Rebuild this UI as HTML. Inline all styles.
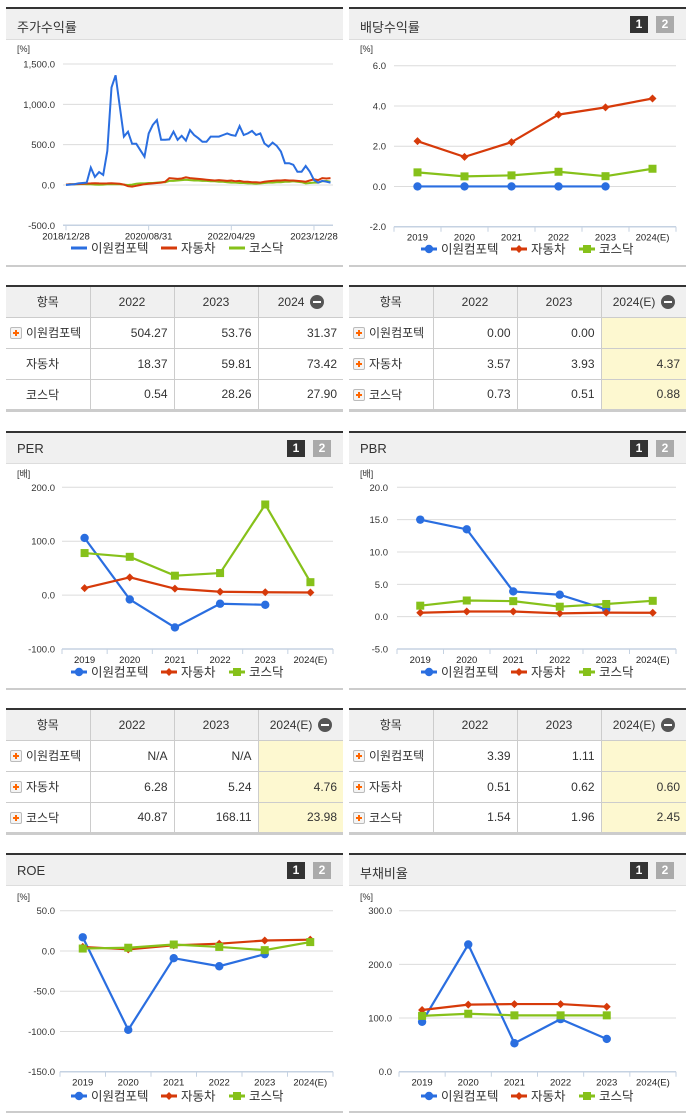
<!DOCTYPE html>
<html><head><meta charset="utf-8">
<style>
*{margin:0;padding:0;box-sizing:border-box}
body{width:691px;height:1115px;background:#fff;position:relative;overflow:hidden;font-family:"Liberation Sans","Noto Sans CJK KR",sans-serif;color:#333}
.panel{position:absolute;border-top:2px solid #333;border-bottom:2px solid #ccc}
.hdr{height:31px;background:#f0f0f0;border-bottom:1px solid #ddd;position:relative}
.hdr .t{position:absolute;left:11px;top:8px;font-size:13px;color:#333}
.btn{position:absolute;top:7px;width:18px;height:17px;color:#fff;font-weight:bold;font-size:12px;text-align:center;line-height:17px}
.b1{background:#333}.b2{background:#aaa}
table{position:absolute;border-collapse:collapse;font-size:12px;table-layout:fixed}
td,th{border:1px solid #ccc;height:31px;font-weight:normal}
th{background:#f0f0f0;text-align:center}
td{text-align:right;padding-right:6px}
td.lab{text-align:left;padding-left:4px;padding-right:0;white-space:nowrap}
td.est{background:#fdf8d0}
.plus{display:inline-block;width:12px;height:12px;border:1px solid #bbb;background:#f4f4f4;vertical-align:-2px;margin-right:4px;position:relative;border-radius:2px}
.plus:before{content:"";position:absolute;left:2px;top:4px;width:6px;height:2px;background:#f60}
.plus:after{content:"";position:absolute;left:4px;top:2px;width:2px;height:6px;background:#f60}
.sp{display:inline-block;width:16px}
.minus{display:inline-block;width:14px;height:14px;border-radius:7px;background:#555;vertical-align:-3px;position:relative;margin-left:2px}
.minus:after{content:"";position:absolute;left:3px;top:6px;width:8px;height:2px;background:#fff}
table tr:first-child th{border-top:none}
#ov{position:absolute;left:0;top:0}
</style></head><body>

<div class="panel" style="left:6px;top:7px;width:337px;height:260px"><div class="hdr"><span class="t">주가수익률</span></div></div>
<div class="panel" style="left:349px;top:7px;width:337px;height:260px"><div class="hdr"><span class="t">배당수익률</span><span class="btn b1" style="left:281px">1</span><span class="btn b2" style="left:307px">2</span></div></div>

<div class="panel" style="left:6px;top:431px;width:337px;height:259px"><div class="hdr"><span class="t">PER</span><span class="btn b1" style="left:281px">1</span><span class="btn b2" style="left:307px">2</span></div></div>
<div class="panel" style="left:349px;top:431px;width:337px;height:259px"><div class="hdr"><span class="t">PBR</span><span class="btn b1" style="left:281px">1</span><span class="btn b2" style="left:307px">2</span></div></div>

<div class="panel" style="left:6px;top:853px;width:337px;height:260px"><div class="hdr"><span class="t">ROE</span><span class="btn b1" style="left:281px">1</span><span class="btn b2" style="left:307px">2</span></div></div>
<div class="panel" style="left:349px;top:853px;width:337px;height:260px"><div class="hdr"><span class="t">부채비율</span><span class="btn b1" style="left:281px">1</span><span class="btn b2" style="left:307px">2</span></div></div>

<svg id="ov" width="691" height="1115" xmlns="http://www.w3.org/2000/svg" font-family="Liberation Sans, Noto Sans CJK KR, sans-serif"></svg>

<script>
// ===== data =====
const cats = ['2019','2020','2021','2022','2023','2024(E)'];
const seriesNames = ['이원컴포텍','자동차','코스닥'];
const stockDates = ['2018/12/28','2020/08/31','2022/04/29','2023/12/28'];
const stockDateIdx = [0,20,40,60];
const stockBlue = [0,5,10,20,25,30,215,100,160,125,420,1210,1360,980,600,660,510,510,430,350,640,745,805,560,560,565,660,560,610,550,680,620,580,535,535,600,600,600,620,640,620,610,730,620,640,670,620,640,515,475,525,485,415,270,270,250,165,165,235,165,60,30,50,40,30];
const stockRed = [5,8,10,12,15,18,20,22,20,18,20,22,18,15,5,-15,-20,-10,0,10,15,20,25,30,40,85,80,75,80,95,85,80,75,70,65,60,55,60,55,50,55,45,50,40,40,35,35,30,40,45,50,55,55,60,55,55,50,45,40,55,70,60,85,80,85];
const stockGreen = [5,8,10,10,12,10,8,5,3,5,8,10,10,8,5,0,5,15,20,20,25,25,30,35,35,50,50,55,60,65,60,55,55,50,50,45,45,40,40,35,30,30,25,25,20,20,15,20,25,30,30,35,35,40,40,45,40,35,20,25,30,30,45,50,40];
const stockTicks = [1500,1000,500,0,-500];
const divBlue = [0,0,0,0,0,null];
const divRed = [2.25,1.47,2.2,3.57,3.93,4.37];
const divGreen = [0.7,0.5,0.55,0.73,0.51,0.88];
const perBlue = [106,-8,-60,-16,-18,null];
const perRed = [13,33,12,6.28,5.24,4.76];
const perGreen = [78,71,36,40.87,168.11,23.98];
const pbrBlue = [15,13.5,3.9,3.39,1.11,null];
const pbrRed = [0.6,0.8,0.8,0.51,0.62,0.60];
const pbrGreen = [1.7,2.5,2.4,1.54,1.96,2.45];
const roeBlue = [17,-98,-9,-19,-4,null];
const roeRed = [5,2,7,9,13,14];
const roeGreen = [3,4,8,5,1,11];
const debtBlue = [93,237,53,98,61,null];
const debtRed = [115,125,126,126,121,null];
const debtGreen = [104,108,105,105,105,null];
const tblYears1 = ['2022','2023','2024'];
const tblYears2 = ['2022','2023','2024(E)'];
const t1Vals = [['504.27','53.76','31.37'],['18.37','59.81','73.42'],['0.54','28.26','27.90']];
const t2Vals = [['0.00','0.00',''],['3.57','3.93','4.37'],['0.73','0.51','0.88']];
const t3Vals = [['N/A','N/A',''],['6.28','5.24','4.76'],['40.87','168.11','23.98']];
const t4Vals = [['3.39','1.11',''],['0.51','0.62','0.60'],['1.54','1.96','2.45']];

const colors = ['#2a6ee0','#d63a0a','#86c11a'];
const NS = 'http://www.w3.org/2000/svg';
const svg = document.getElementById('ov');
function mk(tag, attrs, parent){const e=document.createElementNS(NS,tag);for(const k in attrs)e.setAttribute(k,attrs[k]);(parent||svg).appendChild(e);return e;}
function txt(x,y,s,size,anchor,parent,fill){const t=mk('text',{x:x,y:y,'font-size':size,'text-anchor':anchor||'start',fill:fill||'#333'},parent);t.textContent=s;return t;}
function fmt(v){return v.toLocaleString('en-US',{minimumFractionDigits:1,maximumFractionDigits:1});}

function marker(g,i,x,y){
  let m;
  if(i===0){m=mk('circle',{cx:x,cy:y,r:4.2,fill:colors[0]},g);}
  else if(i===1){m=mk('polygon',{points:`${x},${y-4} ${x+4},${y} ${x},${y+4} ${x-4},${y}`,fill:colors[1]},g);}
  else {m=mk('rect',{x:x-4,y:y-4,width:8,height:8,fill:colors[2]},g);}
  return m;
}

function legend(g,cx,y,lineOnly){
  const widths=[16+4+62,16+4+40,16+4+40];
  const total=widths.reduce((a,b)=>a+b,0)+2*8;
  let x=cx-total/2;
  for(let i=0;i<3;i++){
    const lg=mk('g',{},g);
    
    
    mk('line',{x1:x,y1:y,x2:x+16,y2:y,stroke:colors[i],'stroke-width':3},lg);
    if(!lineOnly) marker(lg,i,x+8,y);
    txt(x+20,y+4.5,seriesNames[i],12.5,'start',lg);
    x+=widths[i]+8;
  }
}

function catChart(name,series,ticks,c){
  const g=mk('g',{});
  
  
  const vmax=ticks[0],vmin=ticks[ticks.length-1];
  const ys=v=>c.yTop+(vmax-v)/(vmax-vmin)*(c.yBot-c.yTop);
  const bw=(c.x1-c.x0)/cats.length;
  const xs=i=>c.x0+bw*(i+0.5);
  const u=txt(c.unitX,c.unitY,c.unit,9,'start',g); 
  ticks.forEach(t=>{
    if(t!==vmin) mk('line',{x1:c.x0,x2:c.x1,y1:ys(t),y2:ys(t),stroke:'#dcdcdc','stroke-width':1},g);
    const l=txt(c.labX,ys(t)+3.5,fmt(t),9.5,'end',g);
    
  });
  mk('line',{x1:c.x0,x2:c.x1,y1:c.yBot,y2:c.yBot,stroke:'#c5d2e2','stroke-width':1.5},g);
  for(let i=0;i<=cats.length;i++) mk('line',{x1:c.x0+bw*i,x2:c.x0+bw*i,y1:c.yBot,y2:c.yBot+5,stroke:'#c5d2e2'},g);
  cats.forEach((s,i)=>{const l=txt(xs(i),c.yBot+14,s,9.5,'middle',g,'#222');});
  series.forEach((arr,si)=>{
    const sg=mk('g',{},g);
    
    
    let d='';
    arr.forEach((v,i)=>{if(v===null)return;d+=(d?'L':'M')+xs(i)+','+ys(v);});
    mk('path',{d:d,fill:'none',stroke:colors[si],'stroke-width':2.2},sg);
    arr.forEach((v,i)=>{
      if(v===null)return;
      const m=marker(sg,si,xs(i),ys(v));
      
      
    });
  });
  legend(g,c.legCx,c.legY,false);
}

// stock return chart
(function(){
  const g=mk('g',{});
  
  
  const yTop=64,yBot=225.3,x0=63,x1=333,mx0=66,mstep=4.133;
  const vmax=stockTicks[0],vmin=stockTicks[stockTicks.length-1];
  const ys=v=>yTop+(vmax-v)/(vmax-vmin)*(yBot-yTop);
  const xs=i=>mx0+i*mstep;
  txt(17,52,'[%]',9,'start',g);
  stockTicks.forEach(t=>{
    if(t!==vmin) mk('line',{x1:x0,x2:x1,y1:ys(t),y2:ys(t),stroke:'#dcdcdc'},g);
    const l=txt(55,ys(t)+3.5,fmt(t),9.5,'end',g);
    
  });
  mk('line',{x1:x0,x2:x1,y1:yBot,y2:yBot,stroke:'#c5d2e2','stroke-width':1.5},g);
  stockDates.forEach((s,k)=>{
    const x=xs(stockDateIdx[k]);
    mk('line',{x1:x,x2:x,y1:yBot,y2:yBot+5,stroke:'#c5d2e2'},g);
    const l=txt(x,yBot+14,s,9.5,'middle',g,'#222');
    
  });
  [stockGreen,stockRed,stockBlue].forEach((arr,k)=>{
    const si=2-k;
    let d='';
    arr.forEach((v,i)=>{d+=(i?'L':'M')+xs(i).toFixed(1)+','+ys(v).toFixed(1);});
    const p=mk('path',{d:d,fill:'none',stroke:colors[si],'stroke-width':2},g);
    
    
  });
  legend(g,180,248,true);
})();

catChart('dividend',[divBlue,divRed,divGreen],[6,4,2,0,-2],{yTop:65.7,yBot:226.7,x0:394,x1:676,labX:386,unitX:360,unitY:52,unit:'[%]',legCx:530,legY:249});
catChart('per',[perBlue,perRed,perGreen],[200,100,0,-100],{yTop:487.3,yBot:649,x0:62,x1:333,labX:55,unitX:17,unitY:477,unit:'[배]',legCx:180,legY:672});
catChart('pbr',[pbrBlue,pbrRed,pbrGreen],[20,15,10,5,0,-5],{yTop:487.3,yBot:649,x0:397,x1:676,labX:388,unitX:360,unitY:477,unit:'[배]',legCx:530,legY:672});
catChart('roe',[roeBlue,roeRed,roeGreen],[50,0,-50,-100,-150],{yTop:910.7,yBot:1071.7,x0:60,x1:333,labX:55,unitX:17,unitY:900,unit:'[%]',legCx:180,legY:1096});
catChart('debt-ratio',[debtBlue,debtRed,debtGreen],[300,200,100,0],{yTop:910.7,yBot:1071.7,x0:399,x1:676,labX:392,unitX:360,unitY:900,unit:'[%]',legCx:530,legY:1096});

// tables
function table(name,left,top,years,vals,plusRows,est){
  const t=document.createElement('table');
  
  
  t.style.left=left+'px';t.style.top=top+'px';t.style.width='337px';
  t.style.borderTop='2px solid #333';t.style.borderBottom='3px solid #ccc';
  let h='<colgroup><col style="width:84px"><col style="width:84px"><col style="width:84px"><col style="width:85px"></colgroup><tr><th style="border-left:none">항목</th>';
  years.forEach((y,i)=>{h+='<th'+(i===2?' style="border-right:none"':'')+'>'+y+(i===2?' <span class="minus"></span>':'')+'</th>';});
  h+='</tr>';
  vals.forEach((r,ri)=>{
    h+='<tr><td class="lab" style="border-left:none">'+(plusRows[ri]?'<span class="plus"></span>':'<span class="sp"></span>')+seriesNames[ri]+'</td>';
    r.forEach((v,ci)=>{h+='<td'+(ci===2?' style="border-right:none"':'')+(ci===2&&est?' class="est"':'')+'>'+v+'</td>';});
    h+='</tr>';
  });
  t.innerHTML=h;
  document.body.appendChild(t);
  t.querySelectorAll('tr').forEach((tr,i)=>{
    
    
  });
  t.querySelectorAll('.plus').forEach(p=>{
    
    
  });
  t.querySelectorAll('.minus').forEach(p=>{
    
    
  });
}
table('stock-return-table',6,285,tblYears1,t1Vals,[true,false,false],false);
table('dividend-table',349,285,tblYears2,t2Vals,[true,true,true],true);
table('per-table',6,708,tblYears2,t3Vals,[true,true,true],true);
table('pbr-table',349,708,tblYears2,t4Vals,[true,true,true],true);
</script>
</body></html>
